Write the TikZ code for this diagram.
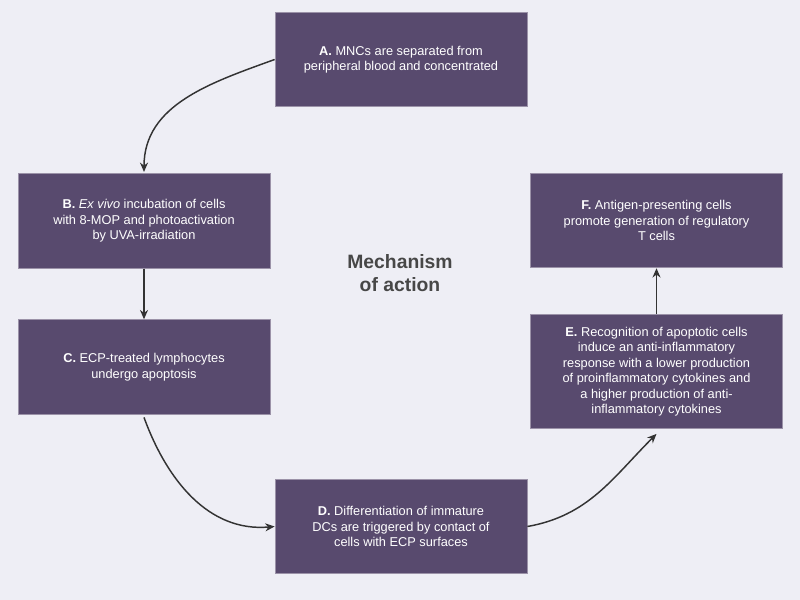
\documentclass[tikz,border=0pt]{standalone}
\usepackage{fontspec}
\setmainfont{Liberation Sans}
\usetikzlibrary{arrows.meta}
\definecolor{bg}{HTML}{EEEEF5}
\definecolor{box}{HTML}{584A6E}
\definecolor{arr}{HTML}{333333}
\begin{document}
\begin{tikzpicture}[x=0.75pt,y=-0.75pt,
  bx/.style={draw=box!60!white,line width=0.6pt,fill=box,text=white,minimum width=189pt,minimum height=71pt,align=center,font=\fontsize{9.6}{11.6}\selectfont,inner sep=2pt},
  ar/.style={draw=arr,line width=1.1pt,-{Stealth[length=7pt,width=6pt]}}]
\fill[bg] (0,0) rectangle (800,600);
\node[bx] (A) at (401,59.5) {\textbf{A.} MNCs are separated from\\peripheral blood and concentrated};
\node[bx] (B) at (144,221) {\textbf{B.} \emph{Ex vivo} incubation of cells\\with 8-MOP and photoactivation\\by UVA-irradiation};
\node[bx] (C) at (144,367) {\textbf{C.} ECP-treated lymphocytes\\undergo apoptosis};
\node[bx] (D) at (401,526.5) {\textbf{D.} Differentiation of immature\\DCs are triggered by contact of\\cells with ECP surfaces};
\node[bx,minimum height=85pt] (E) at (656.5,371.5) {\textbf{E.} Recognition of apoptotic cells\\induce an anti-inflammatory\\response with a lower production\\of proinflammatory cytokines and\\a higher production of anti-\\inflammatory cytokines};
\node[bx] (F) at (656.5,220.5) {\textbf{F.} Antigen-presenting cells\\promote generation of regulatory\\T cells};
\node[font=\bfseries\fontsize{14.5}{17}\selectfont,text=arr!90!white,align=center] (T) at (400,273) {Mechanism\\of action};
\draw[ar] (A.west) to[out=200,in=90] ([yshift=1pt]B.north);
\draw[ar] (B.south) -- (C.north);
\draw[ar] ([yshift=-2pt]C.south) to[out=-70,in=185] (D.west);
\draw[ar] (D.east) to[out=10,in=225] ([yshift=-4pt]E.south);
\draw[ar] (E.north) -- (F.south);
\end{tikzpicture}
\end{document}
